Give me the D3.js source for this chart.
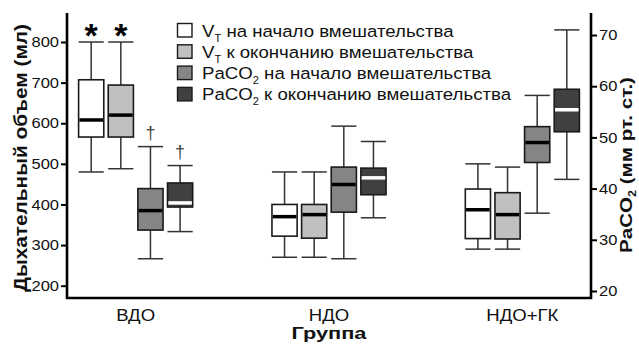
<!DOCTYPE html>
<html><head><meta charset="utf-8">
<script src="https://cdn.jsdelivr.net/npm/d3@7"></script>
<style>
html,body{margin:0;padding:0;background:#fff;}
svg{display:block;font-family:"Liberation Sans",Arial,sans-serif;}
</style></head>
<body><svg id="chart" width="639" height="348"></svg>
<script>
// ---- data ----
const groups = ["ВДО", "НДО", "НДО+ГК"];
const seriesKeys = ["vtStart", "vtEnd", "pcStart", "pcEnd"];
const seriesAxis = ["left", "left", "right", "right"];
const seriesFill = ["#ffffff", "#c0c0c0", "#858585", "#404040"];
const seriesMedian = ["#000000", "#000000", "#000000", "#ffffff"];
// each entry: [whisker low, Q1, median, Q3, whisker high]
const vtStart = [[480, 566, 608, 707, 800], [270, 322, 370, 400, 480], [290, 316, 387, 438, 500]];
const vtEnd   = [[488, 566, 620, 694, 800], [270, 317, 375, 400, 480], [290, 315, 375, 429, 492]];
const pcStart = [[26.3, 31.9, 35.7, 40.0, 48.2], [26.3, 35.4, 40.8, 44.2, 52.2], [35.2, 45.1, 49.0, 52.1, 58.2]];
const pcEnd   = [[31.6, 36.4, 37.2, 41.1, 44.5], [34.3, 38.8, 42.1, 44.0, 49.2], [41.8, 51.1, 55.4, 59.4, 71.0]];
const seriesData = [vtStart, vtEnd, pcStart, pcEnd];
const leftTicks = [200, 300, 400, 500, 600, 700, 800];
const rightTicks = [20, 30, 40, 50, 60, 70];
const leftDomain = [169.7, 871.4];
const rightDomain = [18.63, 74.3];
const stars = [{g: "ВДО", s: 0}, {g: "ВДО", s: 1}];
const daggers = [{g: "ВДО", s: 2}, {g: "ВДО", s: 3}];
const legendParts = [
  [["V", ""], ["T", "sub"], [" на начало вмешательства", ""]],
  [["V", ""], ["T", "sub"], [" к окончанию вмешательства", ""]],
  [["PaCO", ""], ["2", "sub"], [" на начало вмешательства", ""]],
  [["PaCO", ""], ["2", "sub"], [" к окончанию вмешательства", ""]]
];

// ---- layout ----
const svg = d3.select("#chart");
const X0 = 67, X1 = 591, Y0 = 298, Y1 = 13;
const SX = 1.14; // horizontal stretch of the original lettering
const x = d3.scaleBand().domain(groups).range([X0, X1]).paddingInner(0.41).paddingOuter(0.06);
const xs = d3.scaleBand().domain(d3.range(4)).range([0, x.bandwidth()]).paddingInner(0.15).paddingOuter(0);
const yL = d3.scaleLinear().domain(leftDomain).range([Y0, Y1]);
const yR = d3.scaleLinear().domain(rightDomain).range([Y0, Y1]);
const yOf = i => seriesAxis[i] === "left" ? yL : yR;

// boxes
const gBoxes = svg.append("g");
seriesData.forEach((arr, si) => {
  const y = yOf(si);
  arr.forEach((d, gi) => {
    const bx = x(groups[gi]) + xs(si);
    const bw = xs.bandwidth();
    const cx = bx + bw / 2;
    const g = gBoxes.append("g");
    g.append("line").attr("x1", cx).attr("x2", cx).attr("y1", y(d[4])).attr("y2", y(d[3]))
      .attr("stroke", "#333").attr("stroke-width", 1.5);
    g.append("line").attr("x1", cx).attr("x2", cx).attr("y1", y(d[1])).attr("y2", y(d[0]))
      .attr("stroke", "#333").attr("stroke-width", 1.5);
    [d[0], d[4]].forEach(v => g.append("line").attr("x1", bx).attr("x2", bx + bw)
      .attr("y1", y(v)).attr("y2", y(v)).attr("stroke", "#333").attr("stroke-width", 1.5));
    g.append("rect").attr("x", bx).attr("y", y(d[3])).attr("width", bw).attr("height", y(d[1]) - y(d[3]))
      .attr("fill", seriesFill[si]).attr("stroke", "#1a1a1a").attr("stroke-width", 1.6);
    g.append("line").attr("x1", bx + 0.8).attr("x2", bx + bw - 0.8).attr("y1", y(d[2])).attr("y2", y(d[2]))
      .attr("stroke", seriesMedian[si]).attr("stroke-width", 3.5);
  });
});

// axes
const axL = svg.append("g").attr("transform", `translate(${X0},0)`)
  .call(d3.axisLeft(yL).tickValues(leftTicks).tickSize(6).tickPadding(3));
const axR = svg.append("g").attr("transform", `translate(${X1},0)`)
  .call(d3.axisRight(yR).tickValues(rightTicks).tickSize(6).tickPadding(3));
[[axL, -1], [axR, 1]].forEach(([a, dir]) => {
  a.select(".domain").remove();
  a.selectAll(".tick line").attr("stroke", "#000").attr("stroke-width", 2);
  a.selectAll(".tick text").attr("font-size", 14.5).attr("fill", "#111")
    .attr("font-family", "Liberation Sans, Arial, sans-serif")
    .attr("x", dir * 8 / SX).attr("transform", `scale(${SX},1)`);
});
const axX = svg.append("g").attr("transform", `translate(0,${Y0})`)
  .call(d3.axisBottom(x).tickSize(0).tickPadding(0));
axX.select(".domain").remove();
axX.selectAll(".tick text").attr("font-size", 16.3).attr("fill", "#111")
  .attr("font-family", "Liberation Sans, Arial, sans-serif")
  .attr("dy", null).attr("y", 23).attr("transform", `scale(${SX},1)`);

// frame lines
svg.append("path").attr("d", `M${X0},${Y1}V${Y0}H${X1}V${Y1}`)
  .attr("fill", "none").attr("stroke", "#000").attr("stroke-width", 2.6);

// fit a text element (already with x=0,y=0) to a target length along its direction
function fitText(sel, tx, ty, rot, target) {
  const w = sel.node().getComputedTextLength();
  const k = target / w;
  sel.attr("transform", `translate(${tx},${ty}) rotate(${rot}) scale(${k},1)`);
}

// axis titles
const xt = svg.append("text").attr("text-anchor", "middle").attr("font-size", 15.8)
  .attr("font-weight", "bold").attr("fill", "#111").text("Группа");
fitText(xt, (X0 + X1) / 2, 339, 0, 75);
const lt = svg.append("text").attr("text-anchor", "middle").attr("font-size", 18.5)
  .attr("font-weight", "bold").attr("fill", "#111").text("Дыхательный объем (мл)");
fitText(lt, 27, 158, -90, 268);
const rt = svg.append("text").attr("text-anchor", "middle").attr("font-size", 16.5)
  .attr("font-weight", "bold").attr("fill", "#111");
rt.append("tspan").text("PaCO");
rt.append("tspan").attr("font-size", 10).attr("dy", 4).text("2");
rt.append("tspan").attr("dy", -4).text(" (мм рт. ст.)");
fitText(rt, 632, 165, -90, 176);

// stars and daggers
stars.forEach(m => {
  const cx = x(m.g) + xs(m.s) + xs.bandwidth() / 2;
  svg.append("text").attr("x", cx).attr("y", 47).attr("text-anchor", "middle")
    .attr("font-size", 34).attr("font-weight", "bold").text("*");
});
daggers.forEach(m => {
  const cx = x(m.g) + xs(m.s) + xs.bandwidth() / 2;
  const y = yOf(m.s)(seriesData[m.s][groups.indexOf(m.g)][4]);
  svg.append("text").attr("x", cx).attr("y", y - 8).attr("text-anchor", "middle")
    .attr("font-size", 18).attr("fill", "#444").text("†");
});

// legend
const lg = svg.append("g").attr("transform", "translate(177,23)");
legendParts.forEach((parts, i) => {
  const row = lg.append("g").attr("transform", `translate(0,${i * 21.3})`);
  row.append("rect").attr("x", 0.5).attr("y", 0.5).attr("width", 14.5).attr("height", 13.5)
    .attr("fill", seriesFill[i]).attr("stroke", "#1a1a1a").attr("stroke-width", 1.4);
  const t = row.append("text").attr("transform", `translate(25,13.5) scale(1.11,1)`)
    .attr("font-size", 16.8).attr("fill", "#111");
  parts.forEach(([s, kind], j) => {
    if (kind === "sub") t.append("tspan").attr("font-size", 10).attr("dy", 5).text(s);
    else t.append("tspan").attr("dy", j ? -5 : 0).text(s);
  });
});
</script>
</body></html>
